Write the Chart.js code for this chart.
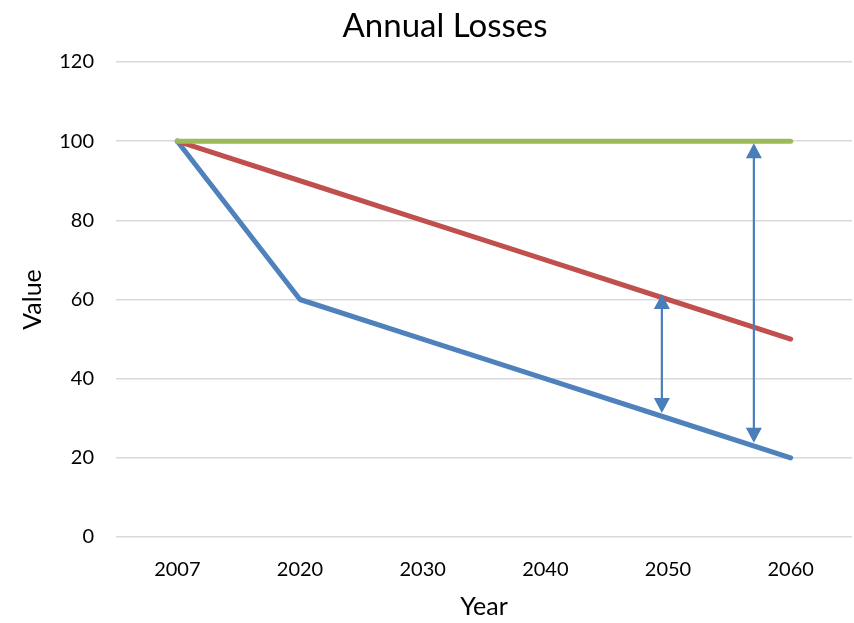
<!DOCTYPE html>
<html>
<head>
<meta charset="utf-8">
<script src="https://cdn.jsdelivr.net/npm/chart.js@4/dist/chart.umd.min.js"></script>
<style>
html,body{margin:0;padding:0;background:#fff;}
#wrap{width:854px;height:623px;position:relative;}
</style>
</head>
<body>
<div id="wrap"><canvas id="c" width="854" height="623"></canvas></div>
<script>
const years = ['2007', '2020', '2030', '2040', '2050', '2060'];
const greenValues = [100, 100, 100, 100, 100, 100];
const redValues = [100, 90, 80, 70, 60, 50];
const blueValues = [100, 60, 50, 40, 30, 20];
// double-headed arrows: position on category axis (index units), value from, value to
const arrowIndex = [3.95, 4.70];
const arrowFrom = [31.3, 23.8];
const arrowTo = [61.4, 99.5];
const yTicks = [0, 20, 40, 60, 80, 100, 120];

const FONT = 'Lato, "Open Sans", sans-serif';

const arrowPlugin = {
  id: 'arrows',
  afterDatasetsDraw(chart) {
    const ctx = chart.ctx;
    const xs = chart.scales.x, ys = chart.scales.y;
    ctx.save();
    ctx.strokeStyle = '#4A7EBB';
    ctx.fillStyle = '#4A7EBB';
    ctx.lineWidth = 2.2;
    const hl = 15, hw = 8;
    for (let i = 0; i < arrowIndex.length; i++) {
      const x = xs.getPixelForValue(arrowIndex[i]);
      const yA = ys.getPixelForValue(arrowFrom[i]);
      const yB = ys.getPixelForValue(arrowTo[i]);
      const top = Math.min(yA, yB), bot = Math.max(yA, yB);
      ctx.beginPath();
      ctx.moveTo(x, top + hl - 1);
      ctx.lineTo(x, bot - hl + 1);
      ctx.stroke();
      ctx.beginPath();
      ctx.moveTo(x, top);
      ctx.lineTo(x - hw, top + hl);
      ctx.lineTo(x + hw, top + hl);
      ctx.closePath();
      ctx.fill();
      ctx.beginPath();
      ctx.moveTo(x, bot);
      ctx.lineTo(x - hw, bot - hl);
      ctx.lineTo(x + hw, bot - hl);
      ctx.closePath();
      ctx.fill();
    }
    ctx.restore();
  },
  afterDraw(chart) {
    const ctx = chart.ctx;
    ctx.save();
    ctx.fillStyle = '#000';
    ctx.font = '33px ' + FONT;
    ctx.textAlign = 'center';
    ctx.textBaseline = 'middle';
    ctx.fillText('Annual Losses', 445, 26);
    ctx.restore();
  }
};

new Chart(document.getElementById('c'), {
  type: 'line',
  data: {
    labels: years,
    datasets: [
      { label: 'Green', data: greenValues, borderColor: '#9BBB59', backgroundColor: '#9BBB59' },
      { label: 'Red', data: redValues, borderColor: '#C0504D', backgroundColor: '#C0504D' },
      { label: 'Blue', data: blueValues, borderColor: '#4F81BD', backgroundColor: '#4F81BD' }
    ]
  },
  options: {
    responsive: false,
    animation: false,
    layout: { padding: { top: 62, right: 2, bottom: 0, left: 0 } },
    elements: {
      line: { borderWidth: 5, tension: 0, borderCapStyle: 'round', borderJoinStyle: 'round' },
      point: { radius: 0, hoverRadius: 0 }
    },
    plugins: {
      legend: { display: false },
      title: { display: false },
      tooltip: { enabled: false }
    },
    scales: {
      x: {
        type: 'category',
        offset: true,
        grid: { display: false, drawTicks: false },
        border: { display: false },
        ticks: { color: '#000', font: { family: FONT, size: 20 }, padding: 21, maxRotation: 0 },
        title: { display: true, text: 'Year', color: '#000', font: { family: FONT, size: 25 }, padding: { top: 4, bottom: 1 } },
        afterFit(axis) { axis.height = 86; }
      },
      y: {
        min: 0, max: 120,
        afterBuildTicks(axis) { axis.ticks = yTicks.map(v => ({ value: v })); },
        grid: { color: '#D9D9D9', lineWidth: 1.5, drawTicks: false },
        border: { display: false },
        ticks: { color: '#000', font: { family: FONT, size: 20 }, padding: 22 },
        title: { display: true, text: 'Value', color: '#000', font: { family: FONT, size: 25 }, padding: { top: 18, bottom: 0 } },
        afterFit(axis) { axis.width = 116; }
      }
    }
  },
  plugins: [arrowPlugin]
});
</script>
</body>
</html>
